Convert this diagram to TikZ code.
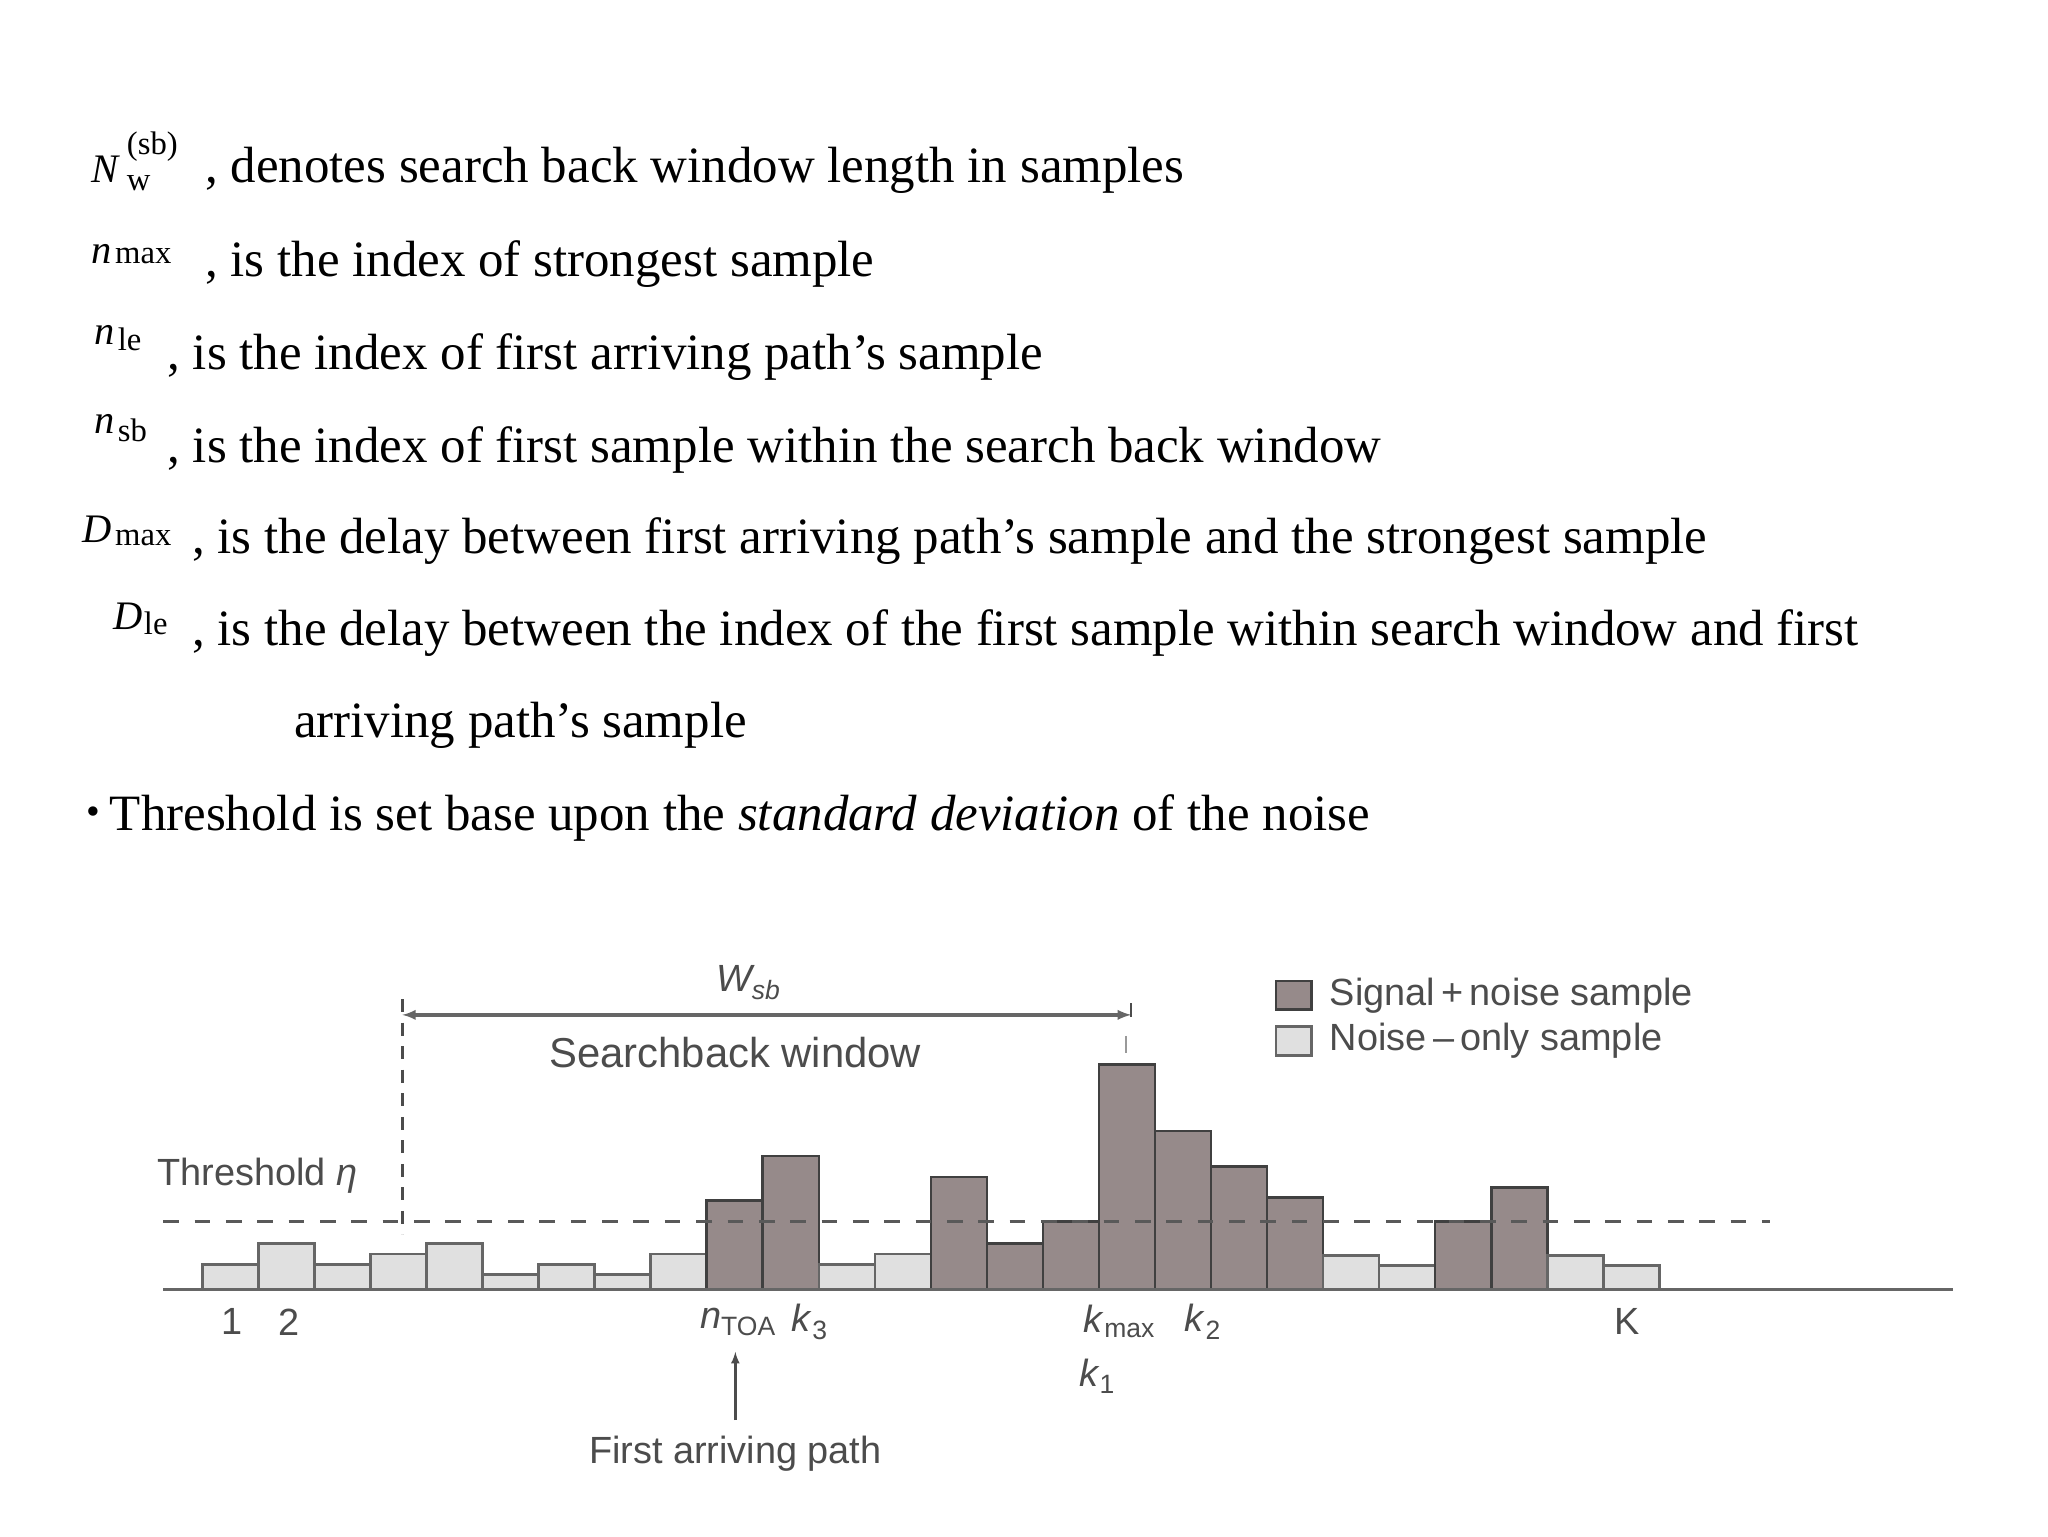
\documentclass[tikz,border=0pt]{standalone}
\usepackage{fontspec}
\setmainfont{Liberation Serif}
\newfontfamily\chartfont{Liberation Sans}
\begin{document}
\begin{tikzpicture}[x=1pt,y=-1pt,
  body/.style={anchor=base west,inner sep=0pt,font=\fontsize{39}{44}\selectfont},
  sym/.style={anchor=base west,inner sep=0pt,font=\fontsize{31}{34}\selectfont\itshape},
  sub/.style={anchor=base west,inner sep=0pt,font=\fontsize{25}{28}\selectfont},
  lbl/.style={inner sep=0pt,text=black!70,font=\chartfont\fontsize{29}{32}\selectfont},
  sig/.style={fill=sigcol,draw=black!75,line width=2pt},
  noi/.style={fill=black!12,draw=black!60,line width=2pt},
]
\definecolor{sigcol}{HTML}{968A8A}
\useasboundingbox (0,0) rectangle (1568,1176);
\fill[white] (0,0) rectangle (1568,1176);
% definitions text
\node[sym] (s1) at (70,140) {N}; \node[sub] at (97,118) {(sb)}; \node[sub] at (97,146) {w};
\node[body] (t1) at (157,140) {, denotes search back window length in samples};
\node[sym] (s2) at (70,202) {n}; \node[sub] at (88,202) {max};
\node[body] (t2) at (157,212) {, is the index of strongest sample};
\node[sym] (s3) at (72,264) {n}; \node[sub] at (90,268) {le};
\node[body] (t3) at (128,283) {, is the index of first arriving path’s sample};
\node[sym] (s4) at (72,332) {n}; \node[sub] at (90,338) {sb};
\node[body] (t4) at (128,354) {, is the index of first sample within the search back window};
\node[sym] (s5) at (63,415) {D}; \node[sub] at (88,418) {max};
\node[body] (t5) at (147,424) {, is the delay between first arriving path’s sample and the strongest sample};
\node[sym] (s6) at (87,482) {D}; \node[sub] at (110,486) {le};
\node[body] (t6) at (147,494) {, is the delay between the index of the first sample within search window and first};
\node[body] (t7) at (225,565) {arriving path’s sample};
\node[body] (t8) at (66,636) {\fontsize{30}{30}\selectfont\raisebox{5pt}{•} \fontsize{39}{44}\selectfont Threshold is set base upon the \textit{standard deviation} of the noise};
% bars
\def\bw{42.9}
\foreach \h/\t [count=\i from 0] in {19/n,35/n,19/n,27/n,35/n,11/n,19/n,11/n,27/n,68/s,102/s,19/n,27/n,86/s,35/s,52/s,172/s,121/s,94/s,70/s,26/n,18/n,52/s,78/s,26/n,18/n}{
  \if\t s\def\st{sig}\else\def\st{noi}\fi
  \draw[\st] (155+\i*\bw,987) rectangle (155+\i*\bw+\bw,987-\h);
}
\draw[black!60,line width=2.5pt] (125,987) -- (1495,987);
\draw[black!65,line width=2pt,dash pattern=on 12pt off 12pt] (125,935) -- (1355,935);
\coordinate (vt) at (308,765); \coordinate (vb) at (308,945);
\draw[black!70,line width=2pt,dash pattern=on 10pt off 8pt] (vt) -- (vb);
\coordinate (al) at (308,777); \coordinate (ar) at (866,777);
\draw[black!60,line width=2.5pt,<->,>=latex] (al) -- (ar);
\draw[black!70,line width=1.5pt] (866,768) -- (866,779);
\draw[black!40,line width=2pt] (862,793) -- (862,806);
\node[lbl,font=\chartfont\itshape\fontsize{29}{32}\selectfont] (w) at (573,752) {W\textsubscript{sb}};
\node[lbl,font=\chartfont\fontsize{32}{34}\selectfont] (sw) at (563,806) {Searchback window};
\node[lbl] (th) at (197,900) {Threshold \textit{η}};
\node[lbl] (l1) at (178,1012) {1};
\node[lbl] (l2) at (221,1012) {2};
\node[lbl] (nt) at (565,1012) {\textit{n}\textsubscript{TOA}};
\node[lbl] (k3) at (620,1012) {\textit{k}\textsubscript{3}};
\node[lbl] (km) at (857,1012) {\textit{k}\textsubscript{max}};
\node[lbl] (k2) at (921,1012) {\textit{k}\textsubscript{2}};
\node[lbl] (k1) at (840,1054) {\textit{k}\textsubscript{1}};
\node[lbl] (kk) at (1246,1012) {K};
\node[lbl] (fa) at (563,1113) {First arriving path};
\coordinate (fat) at (563,1035);
\draw[black!70,line width=2pt,-latex] (fa.north) ++(0,-12) -- (fat);
% legend
\draw[sig] (977,751) rectangle (1004,773);
\draw[noi] (977,786) rectangle (1004,808);
\node[lbl,anchor=west] (lg1) at (1018,762) {Signal\,+\,noise sample};
\node[lbl,anchor=west] (lg2) at (1018,797) {Noise\,–\,only sample};
\end{tikzpicture}
\end{document}
